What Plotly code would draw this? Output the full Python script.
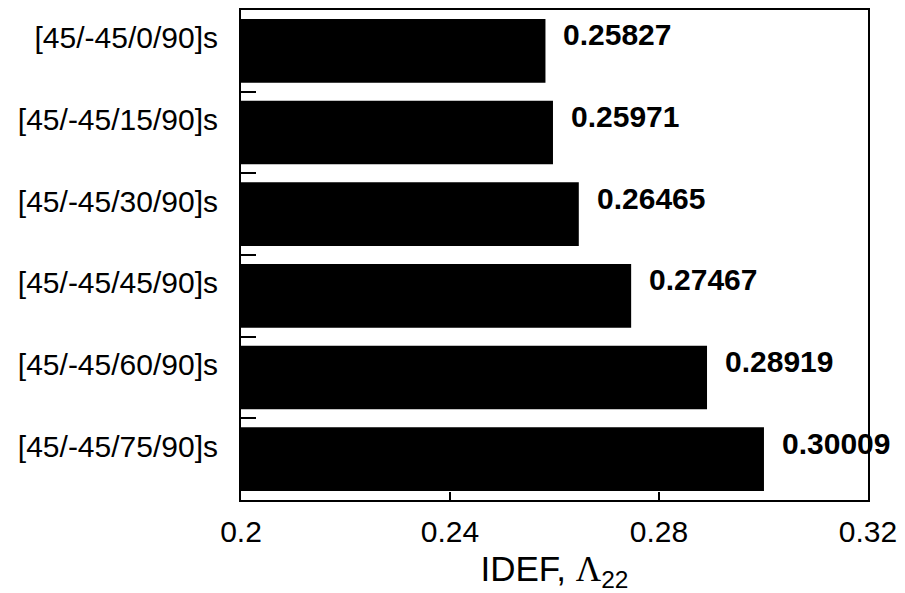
import plotly.graph_objects as go

categories = ["[45/-45/0/90]s", "[45/-45/15/90]s", "[45/-45/30/90]s",
              "[45/-45/45/90]s", "[45/-45/60/90]s", "[45/-45/75/90]s"]
values = [0.25827, 0.25971, 0.26465, 0.27467, 0.28919, 0.30009]
value_labels = ["0.25827", "0.25971", "0.26465", "0.27467", "0.28919", "0.30009"]
x_ticks = [0.2, 0.24, 0.28, 0.32]
x_ticklabels = ["0.2", "0.24", "0.28", "0.32"]

FONT = "Liberation Sans, Arial, sans-serif"

fig = go.Figure()
fig.add_trace(go.Bar(
    x=values, y=categories, orientation="h",
    marker=dict(color="black", line=dict(width=0)),
    width=0.78,
    hoverinfo="skip",
))

for cat, v, lab in zip(categories, values, value_labels):
    fig.add_annotation(
        x=v, y=cat, text="<b>" + lab + "</b>", showarrow=False,
        xanchor="left", yanchor="middle", xshift=16, yshift=16,
        font=dict(family=FONT, size=30, color="black"),
    )

fig.update_layout(
    width=905, height=593,
    margin=dict(l=241, r=32, t=8, b=93),
    paper_bgcolor="white", plot_bgcolor="white",
    showlegend=False,
    font=dict(family=FONT, color="black"),
)
fig.update_xaxes(
    range=[0.2, 0.32], tickvals=x_ticks, ticktext=x_ticklabels,
    ticks="inside", ticklen=8, tickwidth=1.5, tickcolor="black",
    showline=True, linecolor="black", linewidth=2, mirror=True,
    showgrid=False, zeroline=False,
    tickfont=dict(family=FONT, size=30, color="black"),
    ticklabelstandoff=4,
    title=dict(
        text="IDEF, <span style=\"font-family:'Liberation Serif', serif\">Λ</span><sub>22</sub>",
        font=dict(family=FONT, size=35, color="black"), standoff=10,
    ),
)
fig.update_yaxes(
    categoryorder="array", categoryarray=categories, autorange="reversed",
    tickson="boundaries", ticks="inside", ticklen=15, tickwidth=2, tickcolor="black",
    showline=True, linecolor="black", linewidth=2, mirror=True,
    showgrid=False, zeroline=False,
    tickfont=dict(family=FONT, size=30, color="black"),
    ticklabelshift=13, ticklabelstandoff=15,
)

fig.write_html("out.html")
